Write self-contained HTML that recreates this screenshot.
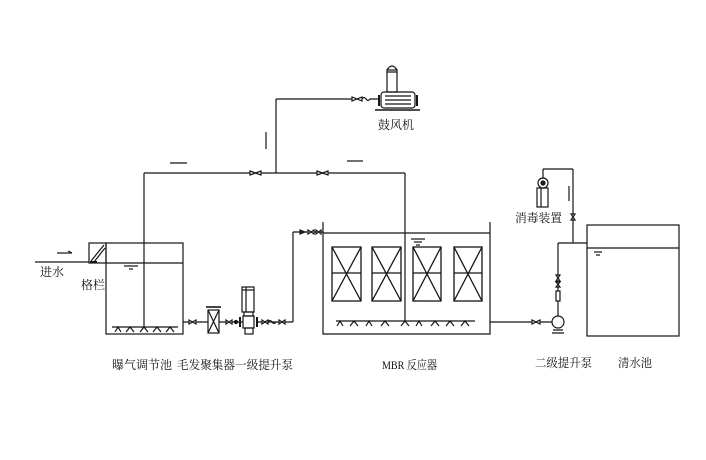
<!DOCTYPE html>
<html><head><meta charset="utf-8"><style>
html,body{margin:0;padding:0;background:#fff;}
svg{display:block;}
text{font-family:"Liberation Serif","Noto Serif CJK SC",serif;font-size:12px;fill:#111;}
</style></head><body>
<svg width="706" height="460" viewBox="0 0 706 460" xmlns="http://www.w3.org/2000/svg">
<g fill="none" stroke="#151515" stroke-width="1.2">
<!-- inlet -->
<line x1="35" y1="262" x2="89" y2="262"/>
<line x1="57" y1="253" x2="72" y2="253"/>
<path d="M68,251 L72,253" />
<!-- screen -->
<rect x="89" y="243" width="17" height="20"/>
<line x1="91" y1="261" x2="104" y2="245"/>
<line x1="94" y1="262" x2="105" y2="248"/>
<line x1="90" y1="262" x2="97" y2="262" stroke-width="2"/>
<!-- aeration tank -->
<rect x="106" y="243" width="77" height="91"/>
<line x1="106" y1="263" x2="183" y2="263"/>
<line x1="124" y1="266" x2="138" y2="266"/>
<line x1="129" y1="269" x2="133" y2="269"/>
<line x1="144" y1="173" x2="144" y2="327"/>
<line x1="112" y1="327" x2="178" y2="327"/>
<path d="M115,332 L118,327 L121,332 M126,332 L130,327 L134,332 M140,332 L144,327 L148,332 M153,332 L157,327 L161,332 M166,332 L170,327 L174,332"/>
<!-- outlet to filter -->
<line x1="183" y1="322" x2="208" y2="322"/>
<path d="M189,320 L189,324 L196,320 L196,324 Z" fill="#fff"/>
<!-- filter -->
<rect x="208" y="310" width="11" height="23"/>
<line x1="206" y1="307" x2="221" y2="307" stroke-width="1.6"/>
<path d="M208,310 L219,333 M219,310 L208,333"/>
<line x1="219" y1="322" x2="243" y2="322"/>
<path d="M226,320 L226,324 L232,320 L232,324 Z" fill="#fff"/>
<circle cx="236" cy="322" r="1.5" fill="#222"/>
<!-- pump 1 -->
<rect x="242" y="287" width="12" height="25"/>
<line x1="246" y1="287" x2="246" y2="312"/>
<line x1="242" y1="290" x2="254" y2="290"/>
<rect x="244" y="312" width="9" height="4"/>
<rect x="243" y="316" width="11" height="12"/>
<line x1="240" y1="317" x2="240" y2="327" stroke-width="2"/>
<line x1="257" y1="317" x2="257" y2="327" stroke-width="2"/>
<rect x="245" y="328" width="8" height="6"/>
<line x1="257" y1="322" x2="293" y2="322"/>
<path d="M262,320 L262,324 L268,320 L268,324 Z" fill="#fff"/>
<path d="M268,322 q2,-3 4,0 q2,3 4,0"/>
<path d="M279,320 L279,324 L285,320 L285,324 Z" fill="#fff"/>
<line x1="293" y1="322" x2="293" y2="232"/>
<line x1="293" y1="232" x2="323" y2="232"/>
<path d="M300,230 L300,234 L305,232 Z" fill="#222"/>
<path d="M308,230 L308,234 L314,230 L314,234 Z" fill="#fff"/>
<path d="M316,230 L316,234 L321,230 L321,234 Z" fill="#fff"/>
<!-- air main -->
<line x1="144" y1="173" x2="405" y2="173"/>
<path d="M250,171 L250,175 L261,171 L261,175 Z" fill="#fff"/>
<path d="M317,171 L317,175 L328,171 L328,175 Z" fill="#fff"/>
<line x1="276" y1="99" x2="276" y2="173"/>
<line x1="276" y1="99" x2="352" y2="99"/>
<path d="M352,97 L352,101 L362,97 L362,101 Z" fill="#fff"/>
<path d="M362,99 q2,-3 4,0 q2,3 4,0 L379,99"/>
<!-- arrows -->
<line x1="170" y1="163" x2="187" y2="163"/>
<line x1="347" y1="161" x2="363" y2="161"/>
<line x1="266" y1="132" x2="266" y2="149"/>
<!-- blower -->
<rect x="387" y="70" width="10" height="22"/>
<path d="M387,70 Q392,62 397,70"/>
<line x1="387" y1="72" x2="397" y2="72"/>
<rect x="381" y="92" width="34" height="16" rx="3"/>
<line x1="379" y1="95" x2="379" y2="106" stroke-width="2"/>
<line x1="417" y1="95" x2="417" y2="106" stroke-width="2"/>
<line x1="385" y1="96" x2="411" y2="96"/>
<line x1="385" y1="100" x2="411" y2="100"/>
<line x1="385" y1="104" x2="411" y2="104"/>
<line x1="375" y1="110" x2="420" y2="110" stroke-width="1.5"/>
<!-- MBR -->
<path d="M323,222 L323,334 L490,334 L490,222"/>
<line x1="323" y1="233" x2="490" y2="233"/>
<line x1="411" y1="239" x2="425" y2="239"/>
<line x1="414" y1="242" x2="422" y2="242"/>
<line x1="416" y1="245" x2="420" y2="245"/>
<g stroke-width="1.3">
<rect x="332" y="247" width="29" height="54"/><path d="M332,247 L361,301 M361,247 L332,301"/><line x1="332" y1="273" x2="361" y2="273"/>
<rect x="372" y="247" width="29" height="54"/><path d="M372,247 L401,301 M401,247 L372,301"/><line x1="372" y1="273" x2="401" y2="273"/>
<rect x="413" y="247" width="28" height="54"/><path d="M413,247 L441,301 M441,247 L413,301"/><line x1="413" y1="273" x2="441" y2="273"/>
<rect x="454" y="247" width="28" height="54"/><path d="M454,247 L482,301 M482,247 L454,301"/><line x1="454" y1="273" x2="482" y2="273"/>
</g>
<line x1="405" y1="173" x2="405" y2="321"/>
<line x1="336" y1="321" x2="475" y2="321"/>
<path d="M337,326 L340,321 L343,326 M350,326 L354,321 L358,326 M366,326 L369,321 L372,326 M381,326 L385,321 L389,326 M401,326 L405,321 L409,326 M416,326 L419,321 L422,326 M431,326 L435,321 L439,326 M446,326 L450,321 L454,326 M461,326 L465,321 L469,326"/>
<!-- outlet to pump 2 -->
<line x1="490" y1="322" x2="552" y2="322"/>
<path d="M532,320 L532,324 L540,320 L540,324 Z" fill="#fff"/>
<circle cx="558" cy="322" r="6" fill="#fff"/>
<path d="M553,330 L563,330 M552,333 L564,333"/>
<line x1="558" y1="316" x2="558" y2="243"/>
<path d="M556,275 L560,275 L556,281 L560,281 Z" fill="#fff"/>
<path d="M556,282 L560,282 L556,287 L560,287 Z" fill="#fff"/>
<rect x="556" y="291" width="4" height="10" fill="#fff"/>
<line x1="558" y1="243" x2="587" y2="243"/>
<!-- disinfection -->
<line x1="573" y1="243" x2="573" y2="169"/>
<path d="M571,214 L575,214 L571,220 L575,220 Z" fill="#fff"/>
<line x1="543" y1="169" x2="573" y2="169"/>
<line x1="543" y1="169" x2="543" y2="178"/>
<circle cx="543" cy="183" r="5" fill="#fff"/>
<circle cx="543" cy="183" r="2" fill="#222"/>
<rect x="537" y="188" width="11" height="19"/>
<line x1="541" y1="188" x2="541" y2="207"/>
<line x1="569" y1="186" x2="569" y2="201"/>
<!-- clear tank -->
<rect x="587" y="225" width="92" height="111"/>
<line x1="587" y1="248" x2="679" y2="248"/>
<line x1="594" y1="252" x2="602" y2="252"/>
<line x1="596" y1="255" x2="600" y2="255"/>
</g>
<!-- labels -->
<text x="40" y="276">进水</text>
<text x="81" y="289">格栏</text>
<text x="112" y="369" textLength="60" lengthAdjust="spacingAndGlyphs">曝气调节池</text>
<text x="177" y="369" textLength="116" lengthAdjust="spacingAndGlyphs">毛发聚集器一级提升泵</text>
<text x="382" y="369" textLength="55" lengthAdjust="spacingAndGlyphs">MBR 反应器</text>
<text x="535" y="367" textLength="57" lengthAdjust="spacingAndGlyphs">二级提升泵</text>
<text x="618" y="367" textLength="34" lengthAdjust="spacingAndGlyphs">清水池</text>
<text x="378" y="129" textLength="36" lengthAdjust="spacingAndGlyphs">鼓风机</text>
<text x="515" y="222" textLength="47" lengthAdjust="spacingAndGlyphs">消毒装置</text>
</svg>
</body></html>
